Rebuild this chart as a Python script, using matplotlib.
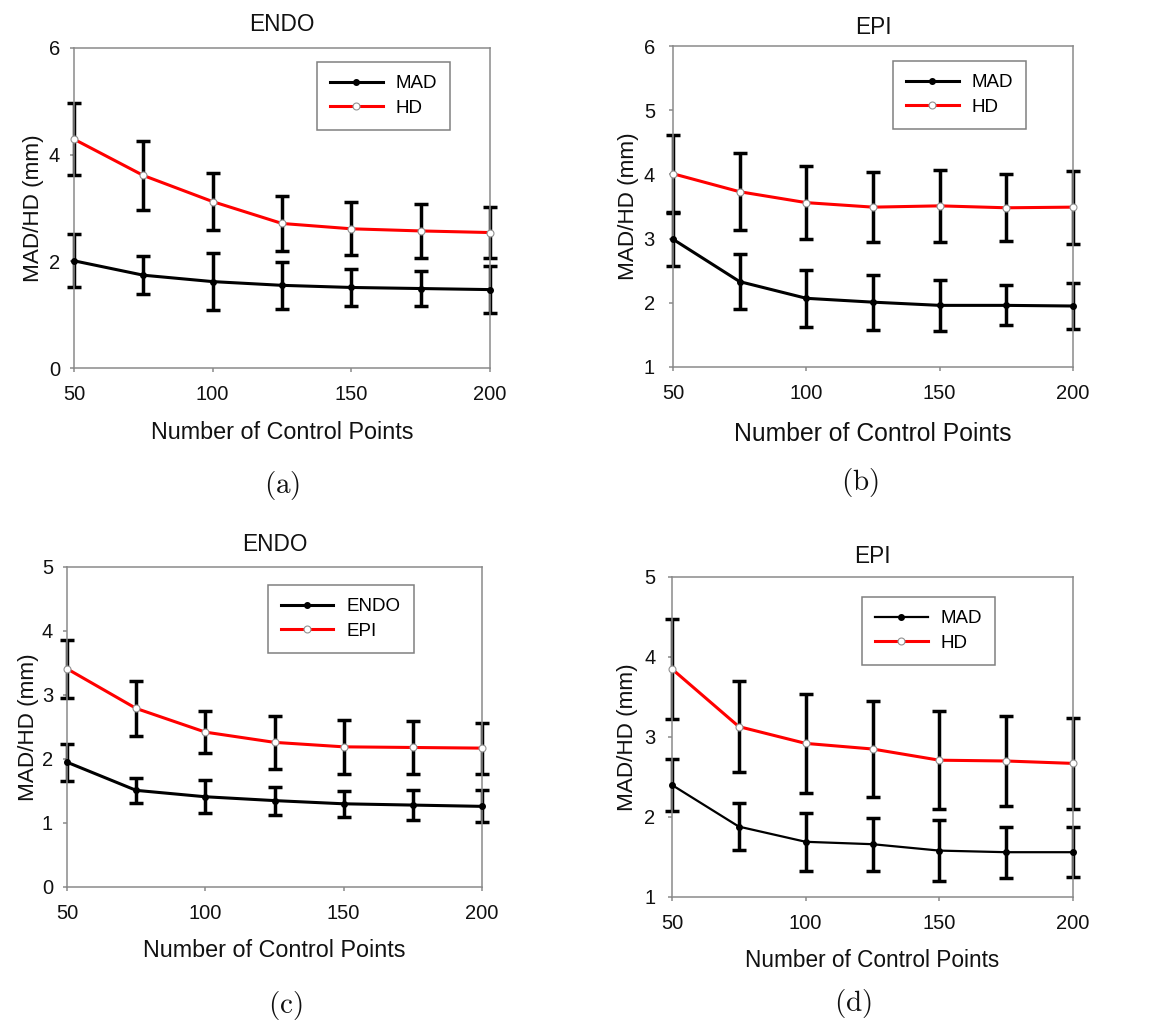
import matplotlib.pyplot as plt

plt.rcParams['font.family'] = ['Liberation Sans', 'DejaVu Sans']
plt.rcParams['mathtext.fontset'] = 'cm'

# number of control points
points = [50, 75, 100, 125, 150, 175, 200]

# (a) ENDO
hd_a = [4.29, 3.61, 3.12, 2.71, 2.61, 2.57, 2.54]
hd_a_err = [0.67, 0.64, 0.54, 0.51, 0.50, 0.50, 0.48]
mad_a = [2.01, 1.74, 1.62, 1.55, 1.51, 1.49, 1.47]
mad_a_err = [0.50, 0.36, 0.53, 0.44, 0.35, 0.33, 0.44]

# (b) EPI
hd_b = [4.01, 3.73, 3.56, 3.49, 3.51, 3.48, 3.49]
hd_b_err = [0.61, 0.60, 0.57, 0.55, 0.56, 0.52, 0.57]
mad_b = [2.99, 2.33, 2.07, 2.01, 1.96, 1.96, 1.95]
mad_b_err = [0.42, 0.43, 0.44, 0.43, 0.40, 0.31, 0.36]

# (c) ENDO vs EPI
epi_c = [3.41, 2.79, 2.42, 2.26, 2.19, 2.18, 2.17]
epi_c_err = [0.45, 0.43, 0.33, 0.41, 0.42, 0.42, 0.40]
endo_c = [1.95, 1.51, 1.41, 1.35, 1.30, 1.28, 1.26]
endo_c_err = [0.29, 0.19, 0.26, 0.22, 0.20, 0.24, 0.25]

# (d) EPI
hd_d = [3.85, 3.13, 2.92, 2.85, 2.71, 2.70, 2.67]
hd_d_err = [0.63, 0.57, 0.62, 0.60, 0.61, 0.56, 0.57]
mad_d = [2.40, 1.88, 1.69, 1.66, 1.58, 1.56, 1.56]
mad_d_err = [0.32, 0.29, 0.36, 0.33, 0.38, 0.32, 0.31]

W, H = 1159, 1034
fig = plt.figure(figsize=(W / 100, H / 100), dpi=100)


def px_axes(left, top, right, bottom):
    return fig.add_axes([left / W, 1 - bottom / H, (right - left) / W, (bottom - top) / H])


def panel(ax, title, black, black_err, red, red_err, labels, ylim, yticks,
          leg_anchor, title_pad, ypad, ylab_x, xlab_y, xlab_size, black_lw=2.2):
    ax.errorbar(points, black, yerr=black_err, fmt='none', ecolor='black',
                elinewidth=2.5, capsize=5, capthick=2.5, clip_on=False, zorder=2)
    ax.errorbar(points, red, yerr=red_err, fmt='none', ecolor='black',
                elinewidth=2.5, capsize=5, capthick=2.5, clip_on=False, zorder=2)
    ax.plot(points, black, color='black', lw=black_lw, marker='o', ms=4,
            mfc='black', mec='black', label=labels[0], clip_on=False, zorder=3)
    ax.plot(points, red, color='red', lw=2.2, marker='o', ms=5,
            mfc='white', mec='#909090', mew=0.8, label=labels[1], clip_on=False, zorder=4)
    ax.set_xlim(50, 200)
    ax.set_ylim(*ylim)
    ax.set_xticks([50, 100, 150, 200])
    ax.set_yticks(yticks)
    for s in ax.spines.values():
        s.set_color('#8a8a8a')
        s.set_linewidth(1.1)
    ax.tick_params(axis='both', direction='out', length=3, width=1.1,
                   color='#8a8a8a', labelsize=14.5, labelcolor='#111111')
    ax.tick_params(axis='x', pad=9.5)
    ax.tick_params(axis='y', pad=ypad)
    ax.set_title(title, fontsize=16.3, pad=title_pad, color='#111111')
    ax.set_ylabel('MAD/HD (mm)', fontsize=16.2, color='#111111')
    ax.yaxis.set_label_coords(ylab_x, 0.5)
    ax.set_xlabel('Number of Control Points', fontsize=xlab_size, color='#111111')
    ax.xaxis.set_label_coords(0.5, xlab_y)
    leg = ax.legend(loc='upper left', bbox_to_anchor=leg_anchor, borderaxespad=0,
                    fontsize=13.5, handlelength=2.8, handletextpad=0.7,
                    borderpad=0.7, labelspacing=0.4, fancybox=False,
                    framealpha=1, edgecolor='#808080')
    leg.get_frame().set_linewidth(1.1)


ax_a = px_axes(74, 48, 490, 368)
panel(ax_a, 'ENDO', mad_a, mad_a_err, hd_a, hd_a_err, ['MAD', 'HD'],
      (0, 6), [0, 2, 4, 6], (0.584, 0.956), 12, 7, -0.073, -0.167, 16.8)

ax_b = px_axes(673, 46, 1073, 367)
panel(ax_b, 'EPI', mad_b, mad_b_err, hd_b, hd_b_err, ['MAD', 'HD'],
      (1, 6), [1, 2, 3, 4, 5, 6], (0.55, 0.953), 9, 10, -0.086, -0.171, 17.8)

ax_c = px_axes(67, 567, 482, 887)
panel(ax_c, 'ENDO', endo_c, endo_c_err, epi_c, epi_c_err, ['ENDO', 'EPI'],
      (0, 5), [0, 1, 2, 3, 4, 5], (0.484, 0.944), 11.5, 7, -0.068, -0.161, 16.8)

ax_d = px_axes(672, 577, 1073, 897)
panel(ax_d, 'EPI', mad_d, mad_d_err, hd_d, hd_d_err, ['MAD', 'HD'],
      (1, 5), [1, 2, 3, 4, 5], (0.474, 0.9375), 10, 9, -0.084, -0.164, 16.3,
      black_lw=1.6)

# sub-figure captions
for label, x, y in [('(a)', 282, 485), ('(b)', 860, 482), ('(c)', 285, 1005), ('(d)', 853, 1003)]:
    fig.text(x / W, 1 - y / H, r'$\mathrm{' + label + '}$', fontsize=21,
             ha='center', va='center', color='#111111')

fig.savefig('out.png', dpi=100)
